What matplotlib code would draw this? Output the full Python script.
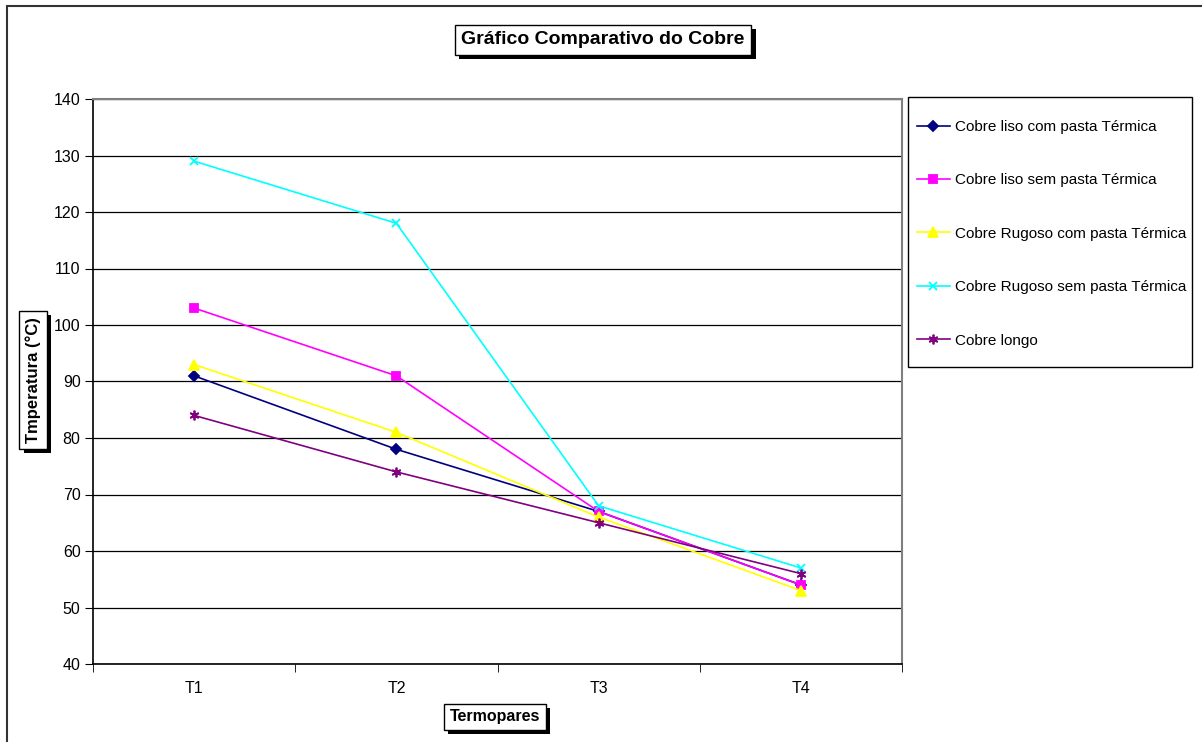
import matplotlib.pyplot as plt
import matplotlib.patheffects as pe
from matplotlib.patches import Rectangle

plt.rcParams['font.family'] = ['Liberation Sans', 'DejaVu Sans']

termopares = ['T1', 'T2', 'T3', 'T4']
liso_com = [91, 78, 67, 54]
liso_sem = [103, 91, 67, 54]
rugoso_com = [93, 81, 66, 53]
rugoso_sem = [129, 118, 68, 57]
longo = [84, 74, 65, 56]

series = [
    ('Cobre liso com pasta Térmica', liso_com, '#000080', 'D', 5),
    ('Cobre liso sem pasta Térmica', liso_sem, '#FF00FF', 's', 6),
    ('Cobre Rugoso com pasta Térmica', rugoso_com, '#FFFF00', '^', 6.5),
    ('Cobre Rugoso sem pasta Térmica', rugoso_sem, '#00FFFF', 'x', 6),
    ('Cobre longo', longo, '#800080', (6, 2, 0), 7),
]

fig = plt.figure(figsize=(12.02, 7.42), dpi=100)
fig.patches.append(Rectangle((7 / 1202, -0.1), 1.2, 1 - 6 / 742 + 0.1,
                             transform=fig.transFigure, fill=False,
                             edgecolor='#333333', linewidth=1.5))

ax = fig.add_axes([93 / 1202, 78 / 742, 809 / 1202, 565 / 742])
x = list(range(len(termopares)))
for name, vals, color, marker, ms in series:
    ax.plot(x, vals, color=color, marker=marker, markersize=ms,
            markeredgewidth=1.3, linewidth=1.2, label=name)

ax.set_xlim(-0.5, 3.5)
ax.set_ylim(40, 140)
ax.set_yticks(range(40, 141, 10))
ax.set_xticks(x)
ax.set_xticklabels(termopares)
ax.set_xticks([-0.5, 0.5, 1.5, 2.5, 3.5], minor=True)
ax.tick_params(axis='x', which='major', length=0, pad=12, labelsize=11.5)
ax.tick_params(axis='x', which='minor', length=6, direction='out', color='black')
ax.tick_params(axis='y', length=6, direction='out', labelsize=11.5, pad=3)
ax.yaxis.grid(True, color='black', linewidth=0.9)
ax.set_axisbelow(True)
for side in ['left', 'bottom']:
    ax.spines[side].set_color('black')
    ax.spines[side].set_linewidth(1.2)
for side in ['top', 'right']:
    ax.spines[side].set_color('#808080')
    ax.spines[side].set_linewidth(1.5)

shadow = [pe.withSimplePatchShadow(offset=(3, -3), shadow_rgbFace='black', alpha=1)]

t = fig.text(603 / 1202, 1 - 40 / 742, 'Gráfico Comparativo do Cobre',
             ha='center', va='center', fontsize=14, fontweight='bold',
             bbox=dict(boxstyle='square,pad=0.35', facecolor='white',
                       edgecolor='black', linewidth=1))
t.get_bbox_patch().set_path_effects(shadow)

t = fig.text(495 / 1202, 1 - 717 / 742, 'Termopares',
             ha='center', va='center', fontsize=11.5, fontweight='bold',
             bbox=dict(boxstyle='square,pad=0.35', facecolor='white',
                       edgecolor='black', linewidth=1))
t.get_bbox_patch().set_path_effects(shadow)

t = fig.text(33 / 1202, 1 - 380 / 742, 'Tmperatura (°C)', rotation=90,
             ha='center', va='center', fontsize=12, fontweight='bold',
             bbox=dict(boxstyle='square,pad=0.35', facecolor='white',
                       edgecolor='black', linewidth=1))
t.get_bbox_patch().set_path_effects(shadow)

# legend frame drawn separately so the rows can be spread out
fig.patches.append(Rectangle((908 / 1202, 1 - 367 / 742), 284 / 1202, 270 / 742,
                             transform=fig.transFigure, facecolor='white',
                             edgecolor='black', linewidth=1))
fig.legend(loc='upper left', bbox_to_anchor=(917 / 1202, 1 - 120 / 742),
           fontsize=11, frameon=False, borderpad=0, labelspacing=2.58,
           handlelength=2.15, handletextpad=0.35, borderaxespad=0)

fig.savefig('out.png', dpi=100)
